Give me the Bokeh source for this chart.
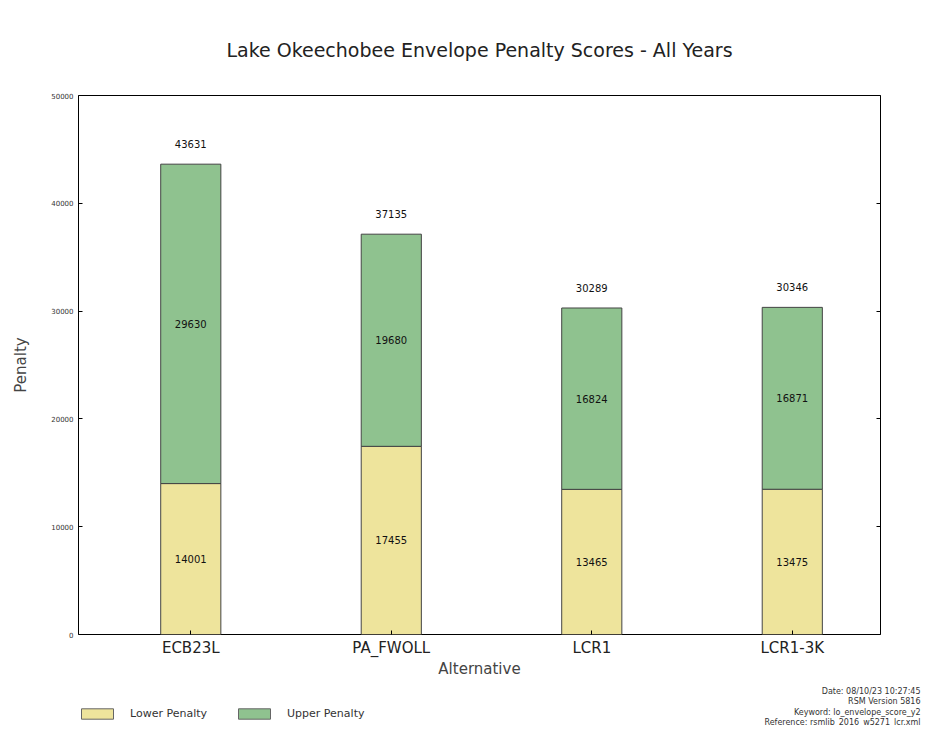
from bokeh.plotting import figure
from bokeh.layouts import column
from bokeh.models import (ColumnDataSource, LinearAxis, FixedTicker, Legend, LegendItem,
                          Label, LabelSet, Range1d)
from bokeh.core.properties import value
from bokeh.embed import file_html
from bokeh.resources import INLINE

alternatives = ["ECB23L", "PA_FWOLL", "LCR1", "LCR1-3K"]
lower_penalty = [14001, 17455, 13465, 13475]
upper_penalty = [29630, 19680, 16824, 16871]
total_penalty = [43631, 37135, 30289, 30346]
y_ticks = [0, 10000, 20000, 30000, 40000, 50000]
series_names = ["Lower Penalty", "Upper Penalty"]
footer_lines = ["Date: 08/10/23 10:27:45", "RSM Version 5816",
                "Keyword: lo_envelope_score_y2", "Reference: rsmlib_2016_w5271_lcr.xml"]

FONT = "DejaVu Sans"
LOWER_COLOR = "#eee49c"
UPPER_COLOR = "#8fc28f"
W = 924

xs = list(range(len(alternatives)))
src = ColumnDataSource(dict(
    x=xs,
    lower=lower_penalty,
    top=[l + u for l, u in zip(lower_penalty, upper_penalty)],
    total=total_penalty,
    lower_mid=[l / 2 for l in lower_penalty],
    upper_mid=[l + u / 2 for l, u in zip(lower_penalty, upper_penalty)],
    lower_txt=[str(v) for v in lower_penalty],
    upper_txt=[str(v) for v in upper_penalty],
    total_txt=[str(v) for v in total_penalty],
))

p = figure(width=W, height=682, output_backend="svg", toolbar_location=None,
           x_range=Range1d(-0.56, 3.44), y_range=Range1d(0, 50000),
           min_border_left=78, min_border_right=44, min_border_top=95, min_border_bottom=48)
p.frame_align = False

p.title.text = "Lake Okeechobee Envelope Penalty Scores - All Years"
p.title.align = "center"
p.title.text_font = FONT
p.title.text_font_size = "19px"
p.title.text_font_style = "normal"
p.title.text_color = "#222222"
p.title.standoff = 70

p.grid.visible = False
p.outline_line_color = "black"
p.outline_line_width = 1
p.background_fill_color = "white"

p.vbar(x="x", bottom=0, top="lower", width=0.3, source=src,
       fill_color=LOWER_COLOR, line_color="#444444", line_width=1)
p.vbar(x="x", bottom="lower", top="top", width=0.3, source=src,
       fill_color=UPPER_COLOR, line_color="#444444", line_width=1)

for ycol, tcol, off in [("lower_mid", "lower_txt", 0), ("upper_mid", "upper_txt", 0),
                        ("total", "total_txt", 20)]:
    p.add_layout(LabelSet(x="x", y=ycol, text=tcol, source=src, y_offset=off,
                          text_align="center", text_baseline="middle",
                          text_font=value(FONT), text_font_size=value("10px"),
                          text_color="#111111"))

# y axis
ya = p.yaxis[0]
ya.ticker = FixedTicker(ticks=y_ticks)
ya.axis_label = "Penalty"
ya.axis_label_text_font = FONT
ya.axis_label_text_font_size = "15px"
ya.axis_label_text_font_style = "normal"
ya.axis_label_standoff = 18
ya.major_label_text_font = FONT
ya.major_label_text_font_size = "7px"
ya.major_label_text_color = "#333333"
ya.major_tick_in = 4
ya.major_tick_out = 0
ya.minor_tick_line_color = None
ya.axis_line_color = None
ya.formatter.use_scientific = False

# right ticks (no labels)
ra = LinearAxis(ticker=FixedTicker(ticks=y_ticks),
                major_label_overrides={t: "" for t in y_ticks},
                major_tick_in=4, major_tick_out=0, minor_tick_line_color=None,
                axis_line_color=None)
p.add_layout(ra, "right")

# x axis
xa = p.xaxis[0]
xa.ticker = FixedTicker(ticks=xs)
xa.major_label_overrides = {i: n for i, n in zip(xs, alternatives)}
xa.major_label_text_font = FONT
xa.major_label_text_font_size = "15px"
xa.major_label_text_color = "#222222"
xa.major_label_standoff = 4
xa.axis_label = "Alternative"
xa.axis_label_text_font = FONT
xa.axis_label_text_font_size = "15px"
xa.axis_label_text_font_style = "normal"
xa.axis_label_standoff = 0
xa.major_tick_in = 4
xa.major_tick_out = 0
xa.minor_tick_line_color = None
xa.axis_line_color = None

# bottom strip: legend + footer
H2 = 44
p2 = figure(width=W, height=H2, output_backend="svg", toolbar_location=None,
            x_range=Range1d(0, 1), y_range=Range1d(0, 1),
            x_axis_type=None, y_axis_type=None,
            min_border_left=0, min_border_right=0, min_border_top=0, min_border_bottom=0)
p2.frame_align = False
p2.outline_line_color = None
p2.grid.visible = False

# hidden legend proxies
proxy = dict(x=[0.5], top=[1])
r_low = p2.vbar(x="x", top="top", width=0.1, source=ColumnDataSource(proxy),
                fill_color=LOWER_COLOR, line_color="#666666", visible=False)
r_up = p2.vbar(x="x", top="top", width=0.1, source=ColumnDataSource(proxy),
               fill_color=UPPER_COLOR, line_color="#666666", visible=False)

legend = Legend(items=[LegendItem(label=series_names[0], renderers=[r_low]),
                       LegendItem(label=series_names[1], renderers=[r_up])],
                orientation="horizontal", location=(77, 6),
                label_text_font=FONT, label_text_font_size="11px",
                label_text_color="#333333",
                glyph_width=40, glyph_height=13, spacing=27, label_standoff=13,
                margin=0, padding=6, inactive_fill_alpha=0,
                border_line_color=None, background_fill_alpha=0)
p2.add_layout(legend, "center")

for i, line in enumerate(footer_lines):
    p2.add_layout(Label(x=W - 4, y=35 - i * 10.3, x_units="screen", y_units="screen",
                        text=line, text_align="right", text_baseline="middle",
                        text_font=FONT, text_font_size="8px", text_color="#333333"))

open("out.html", "w").write(file_html(column(p, p2, spacing=0), INLINE))
